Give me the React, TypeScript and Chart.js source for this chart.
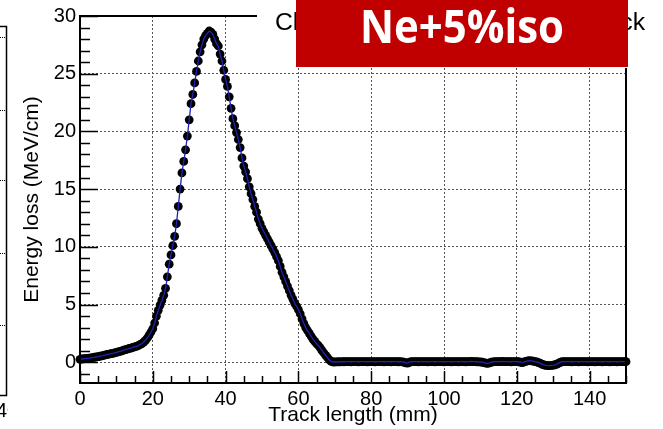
import { useEffect, useRef } from "react";
import { Chart, registerables } from "chart.js";

Chart.register(...registerables);

// Sampling step of the track (mm) and the measured energy loss (MeV/cm)
const STEP_MM = 0.5;
const energyLoss = [
  0.25, 0.28, 0.30, 0.32, 0.34, 0.36, 0.38, 0.40, 0.43, 0.46,
  0.49, 0.52, 0.55, 0.59, 0.63, 0.67, 0.71, 0.74, 0.77, 0.81,
  0.85, 0.89, 0.94, 0.99, 1.04, 1.09, 1.14, 1.19, 1.23, 1.28,
  1.33, 1.38, 1.44, 1.52, 1.62, 1.74, 1.90, 2.10, 2.35, 2.62,
  2.90, 3.40, 4.00, 4.50, 4.95, 5.35, 5.80, 6.40, 7.40, 8.50,
  9.30, 10.10, 10.90, 12.00, 13.50, 15.00, 16.40, 17.40, 18.40, 19.60,
  21.00, 22.40, 23.20, 24.20, 25.20, 26.10, 26.90, 27.50, 28.00, 28.30,
  28.50, 28.70, 28.60, 28.40, 28.00, 27.60, 27.40, 26.70, 26.10, 25.30,
  24.50, 23.90, 23.00, 22.00, 21.10, 20.50, 19.90, 19.30, 18.60, 17.70,
  17.00, 16.50, 15.90, 15.20, 14.60, 14.10, 13.50, 13.00, 12.40, 12.00,
  11.60, 11.30, 11.00, 10.70, 10.40, 10.10, 9.80, 9.50, 9.15, 8.80,
  8.30, 7.80, 7.40, 7.00, 6.60, 6.20, 5.80, 5.45, 5.10, 4.85,
  4.55, 4.20, 3.75, 3.35, 3.00, 2.75, 2.50, 2.25, 2.00, 1.80,
  1.60, 1.45, 1.25, 1.00, 0.80, 0.60, 0.40, 0.20, 0.08, 0.02,
  0.02, 0.03, 0.04, 0.03, 0.05, 0.04, 0.05, 0.06, 0.05, 0.04,
  0.05, 0.06, 0.05, 0.04, 0.05, 0.06, 0.05, 0.05, 0.04, 0.05,
  0.06, 0.05, 0.04, 0.05, 0.06, 0.05, 0.05, 0.04, 0.05, 0.06,
  0.05, 0.04, 0.05, 0.06, 0.05, 0.04, 0.05, 0.03, 0.00, -0.06,
  -0.08, 0.00, 0.04, 0.05, 0.06, 0.05, 0.04, 0.05, 0.06, 0.05,
  0.05, 0.04, 0.05, 0.06, 0.05, 0.04, 0.05, 0.06, 0.05, 0.05,
  0.04, 0.05, 0.06, 0.05, 0.04, 0.05, 0.06, 0.05, 0.04, 0.05,
  0.06, 0.05, 0.04, 0.05, 0.06, 0.07, 0.06, 0.05, 0.04, 0.03,
  0.02, 0.00, -0.04, -0.08, -0.10, -0.06, 0.00, 0.03, 0.05, 0.06,
  0.05, 0.06, 0.07, 0.06, 0.05, 0.06, 0.05, 0.04, 0.05, 0.06,
  0.05, 0.04, 0.00, -0.04, 0.02, 0.08, 0.12, 0.14, 0.12, 0.10,
  0.06, 0.02, -0.04, -0.10, -0.18, -0.24, -0.28, -0.30, -0.30, -0.28,
  -0.26, -0.22, -0.16, -0.08, 0.00, 0.04, 0.06, 0.05, 0.06, 0.05,
  0.04, 0.05, 0.06, 0.05, 0.04, 0.05, 0.06, 0.05, 0.05, 0.04,
  0.05, 0.06, 0.05, 0.04, 0.05, 0.06, 0.05, 0.04, 0.05, 0.06,
  0.05, 0.04, 0.05, 0.06, 0.05, 0.04, 0.05, 0.06, 0.05, 0.05,
  0.05,
];

const xTickValues = [0, 20, 40, 60, 80, 100, 120, 140];
const yTickValues = [0, 5, 10, 15, 20, 25, 30];
const X_MIN = 0;
const X_MAX = 150;
const Y_MIN = -1.8;
const Y_MAX = 30;
const X_MINOR = 5;
const Y_MINOR = 1;

const xTitle = "Track length (mm)";
const yTitle = "Energy loss (MeV/cm)";
const plotTitle = "Charge deposition along the track";
const badgeText = "Ne+5%iso";
const neighbourLabel = "40";

const FONT = "'Liberation Sans', Arial, sans-serif";

const rootStyle = {
  id: "rootStyle",
  afterDatasetsDraw(chart: any) {
    const { ctx, chartArea: a, scales } = chart;
    const xs = scales.x;
    const ys = scales.y;
    ctx.save();
    ctx.strokeStyle = "#000";
    ctx.setLineDash([]);
    ctx.lineWidth = 1.5;
    for (let v = Math.ceil(Y_MIN); v <= Y_MAX; v += Y_MINOR) {
      const p = Math.round(ys.getPixelForValue(v)) + 0.5;
      const len = v % 5 === 0 ? 18 : 10;
      ctx.beginPath();
      ctx.moveTo(a.left, p);
      ctx.lineTo(a.left + len, p);
      ctx.stroke();
    }
    for (let v = X_MIN; v <= X_MAX; v += X_MINOR) {
      const p = Math.round(xs.getPixelForValue(v)) + 0.5;
      const len = v % 20 === 0 ? 12 : 7;
      ctx.beginPath();
      ctx.moveTo(p, a.bottom);
      ctx.lineTo(p, a.bottom - len);
      ctx.stroke();
    }
    ctx.lineWidth = 2;
    ctx.strokeRect(a.left, a.top, a.right - a.left, a.bottom - a.top);
    ctx.restore();
  },
  afterDraw(chart: any) {
    const { ctx, chartArea: a } = chart;
    ctx.save();
    ctx.fillStyle = "#000";
    ctx.font = `21px ${FONT}`;
    ctx.textAlign = "center";
    ctx.textBaseline = "alphabetic";
    ctx.fillText(xTitle, (a.left + a.right) / 2, 421);
    ctx.save();
    ctx.translate(38, (a.top + a.bottom) / 2);
    ctx.rotate(-Math.PI / 2);
    ctx.fillText(yTitle, 0, 0);
    ctx.restore();

    // title pave
    ctx.fillStyle = "#fff";
    ctx.fillRect(257, 0, 406, 68);
    ctx.fillStyle = "#000";
    ctx.font = `23px ${FONT}`;
    ctx.textAlign = "left";
    const tw = ctx.measureText(plotTitle).width;
    ctx.save();
    ctx.translate(275, 30);
    ctx.scale(370 / tw, 1);
    ctx.fillText(plotTitle, 0, 0);
    ctx.restore();

    // red badge
    ctx.fillStyle = "#c00000";
    ctx.fillRect(296, 0, 332, 67);
    ctx.fillStyle = "#fff";
    ctx.font = `700 47px 'Open Sans', 'Noto Sans', sans-serif`;
    ctx.textAlign = "center";
    const bw = ctx.measureText(badgeText).width;
    ctx.save();
    ctx.translate(462, 43);
    ctx.scale(Math.min(1, 204 / bw), 1);
    ctx.fillText(badgeText, 0, 0);
    ctx.restore();

    // fragment of a neighbouring frame at the left edge
    ctx.strokeStyle = "#000";
    ctx.lineWidth = 1.5;
    ctx.beginPath();
    ctx.moveTo(0, 26.5);
    ctx.lineTo(6.5, 26.5);
    ctx.lineTo(6.5, 395.5);
    ctx.lineTo(0, 395.5);
    ctx.stroke();
    ctx.lineWidth = 1;
    ctx.setLineDash([1, 1]);
    [37, 110, 180, 253, 325].forEach((yy) => {
      ctx.beginPath();
      ctx.moveTo(0, yy + 0.5);
      ctx.lineTo(6, yy + 0.5);
      ctx.stroke();
    });
    ctx.setLineDash([]);
    ctx.save();
    ctx.beginPath();
    ctx.rect(0, 398, 8, 31);
    ctx.clip();
    ctx.fillStyle = "#000";
    ctx.font = `20px ${FONT}`;
    ctx.textAlign = "left";
    ctx.fillText(neighbourLabel, -4, 417);
    ctx.restore();
    ctx.restore();
  },
};

export default function App() {
  const ref = useRef<HTMLCanvasElement | null>(null);
  useEffect(() => {
    document.body.style.margin = "0";
    const canvas = ref.current;
    if (!canvas) return;
    const points = energyLoss.map((y, i) => ({ x: i * STEP_MM, y }));
    const chart = new Chart(canvas, {
      type: "line",
      data: {
        datasets: [
          {
            label: "line",
            data: points,
            borderColor: "#2222b8",
            borderWidth: 1.3,
            pointRadius: 0,
            fill: false,
            tension: 0,
            order: 1,
            clip: false as any,
          },
          {
            label: "markers",
            data: points,
            showLine: false,
            pointRadius: 4.4,
            pointStyle: "circle",
            pointBackgroundColor: "#000",
            pointBorderColor: "#000",
            pointBorderWidth: 0,
            order: 2,
            clip: false as any,
          },
        ],
      },
      options: {
        animation: false,
        responsive: false,
        devicePixelRatio: 1,
        layout: { padding: { left: 0, top: 15, right: 37, bottom: 0 } },
        plugins: {
          legend: { display: false },
          tooltip: { enabled: false },
          title: { display: false },
        },
        scales: {
          x: {
            type: "linear",
            min: X_MIN,
            max: X_MAX,
            afterBuildTicks: (s: any) => {
              s.ticks = xTickValues.map((v) => ({ value: v }));
            },
            afterFit: (s: any) => {
              s.height = 46;
            },
            grid: { color: "#555", lineWidth: 1, drawTicks: false },
            border: { display: false, dash: [2, 2] },
            ticks: {
              color: "#000",
              font: { family: FONT, size: 20 },
              padding: 4,
              maxRotation: 0,
              autoSkip: false,
            },
          },
          y: {
            type: "linear",
            min: Y_MIN,
            max: Y_MAX,
            afterBuildTicks: (s: any) => {
              s.ticks = yTickValues.map((v) => ({ value: v }));
            },
            afterFit: (s: any) => {
              s.width = 80;
            },
            grid: { color: "#555", lineWidth: 1, drawTicks: false },
            border: { display: false, dash: [2, 2] },
            ticks: {
              color: "#000",
              font: { family: FONT, size: 20 },
              padding: 4,
              autoSkip: false,
            },
          },
        },
      },
      plugins: [rootStyle],
    });
    return () => chart.destroy();
  }, []);
  return (
    <div style={{ position: "fixed", left: 0, top: 0, width: 663, height: 429, background: "#fff" }}>
      <canvas ref={ref} width={663} height={429} style={{ width: 663, height: 429, display: "block" }} />
    </div>
  );
}
